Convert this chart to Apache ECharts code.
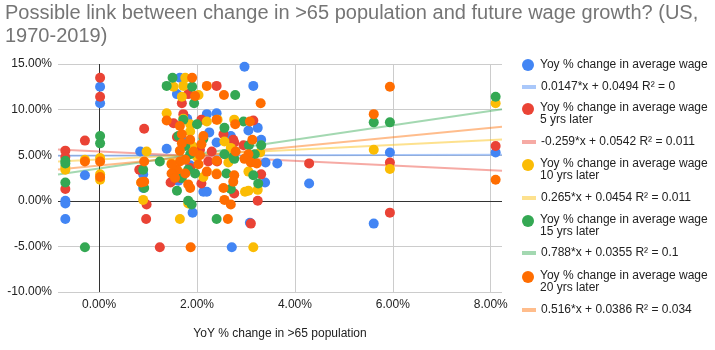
<!DOCTYPE html>
<html>
<head>
<meta charset="utf-8">
<script src="https://cdn.jsdelivr.net/npm/echarts@6/dist/echarts.min.js"></script>
<style>
  html, body { margin: 0; padding: 0; background: #fff; }
  #chart { width: 715px; height: 350px; }
</style>
</head>
<body>
<div id="chart"></div>
<script>
// values in percent
const wageNow = [
  [-0.69, 0.0], [-0.69, -0.3], [-0.69, -2.0], [-0.29, 2.8], [0.02, 12.5], [0.02, 10.7],
  [0.84, 5.4], [0.9, 2.9], [0.9, 1.4], [1.38, 5.7], [1.65, 13.5], [1.59, 11.7], [2.2, 9.5],
  [2.13, 1.0], [2.2, 1.0], [1.91, -1.3], [2.97, 14.7], [3.15, 12.6], [2.4, 9.6], [3.05, 7.7],
  [3.24, 8.0], [2.69, 7.1], [3.31, 6.7], [2.4, 6.4], [3.4, 4.2], [3.64, 4.1], [3.39, 2.0],
  [2.71, -5.1], [4.29, 1.9], [5.61, -2.5], [5.94, 5.3], [8.1, 5.3], [1.72, 6.5], [1.86, 3.9],
  [2.03, 5.8], [1.62, 2.2], [2.25, 7.5], [1.8, 9.0], [3.08, -2.4]
];
const wage5 = [
  [-0.69, 5.5], [-0.69, 4.8], [-0.69, 1.3], [-0.29, 6.6], [0.02, 13.5], [0.02, 11.4],
  [0.92, 7.9], [0.82, 3.4], [0.97, -0.4], [0.96, -2.0], [1.24, -5.1], [1.46, 2.0], [1.82, 11.7],
  [2.4, 12.6], [1.69, 10.7], [1.72, 9.5], [1.52, 8.5], [2.09, 8.9], [2.3, 5.4], [2.09, 1.9],
  [2.76, 0.8], [3.24, 0.0], [3.1, -2.5], [3.15, 8.8], [2.54, 7.3], [2.76, 6.4], [2.95, 6.1],
  [3.31, 2.9], [4.29, 4.1], [5.94, 4.2], [5.94, -1.3], [8.1, 6.0], [2.41, 4.3], [2.23, 4.3],
  [1.65, 2.5], [2.06, 5.6], [2.74, 6.7], [1.86, 3.6], [1.59, 7.0]
];
const wage10 = [
  [-0.69, 3.4], [-0.69, 3.7], [-0.29, 4.5], [0.02, 4.7], [0.02, 2.9], [0.02, 2.3], [0.97, 5.4],
  [0.86, 2.0], [0.9, 0.1], [1.65, -2.0], [1.76, 13.5], [1.52, 12.5], [1.72, 12.6], [1.69, 11.4],
  [2.03, 11.6], [1.38, 9.6], [1.86, 8.4], [2.2, 8.7], [1.86, 7.6], [2.4, 3.0], [1.48, 4.1],
  [2.42, 8.9], [2.76, 8.9], [2.56, 6.5], [2.69, 5.8], [3.29, 5.3], [2.64, 4.2], [3.05, 3.2],
  [2.98, 1.0], [3.05, 1.1], [3.24, 1.2], [3.15, -5.1], [5.61, 5.6], [5.94, 3.5], [8.1, 10.7],
  [1.82, -0.3], [1.72, 9.0], [1.9, 6.0], [2.13, 2.6], [1.62, 3.2], [2.0, 4.8]
];
const wage15 = [
  [-0.69, 4.4], [-0.69, 4.1], [-0.69, 2.0], [-0.29, -5.1], [0.02, 7.1], [0.02, 6.3], [0.92, 1.4],
  [0.9, 3.4], [1.24, 4.3], [1.5, 13.5], [1.38, 12.6], [1.9, 12.5], [1.94, 10.7], [2.78, 11.6],
  [1.72, 8.9], [2.0, 8.4], [1.62, 7.1], [1.86, 5.1], [1.82, 3.4], [1.96, 3.0], [1.69, 2.5],
  [1.59, 1.1], [1.82, 0.0], [1.89, -0.4], [2.4, -2.0], [2.69, 1.3], [3.25, 1.9], [2.95, 8.7],
  [2.56, 8.0], [3.06, 6.1], [3.31, 6.1], [2.56, 5.1], [3.18, 5.1], [2.76, 4.6], [2.6, 3.0],
  [3.15, 2.8], [5.61, 8.6], [5.94, 8.6], [8.1, 11.4], [2.74, 4.8], [2.13, 6.8], [1.76, 6.0]
];
const wage20 = [
  [-0.29, 4.3], [0.02, 4.3], [0.02, 2.6], [0.92, 4.3], [0.92, 2.1], [0.86, 2.0], [1.87, -5.1],
  [1.9, 13.5], [2.2, 12.6], [1.96, 11.5], [2.55, 11.6], [3.3, 10.7], [1.38, 8.8], [1.65, 8.2],
  [2.4, 8.9], [1.69, 7.3], [2.13, 7.1], [1.86, 6.7], [1.69, 6.3], [2.09, 6.2], [1.93, 5.4],
  [1.65, 4.3], [2.03, 4.0], [1.59, 3.4], [1.48, 3.0], [1.76, 3.0], [2.2, 3.2], [1.86, 1.4],
  [1.82, 1.8], [2.54, 1.4], [2.56, 0.1], [2.69, -0.4], [2.63, -2.0], [2.78, 8.4], [3.08, 8.7],
  [3.13, 6.7], [2.79, 5.4], [3.05, 5.1], [2.4, 4.4], [2.97, 4.6], [3.1, 4.2], [3.22, 4.1],
  [2.4, 2.9], [2.76, 2.8], [5.61, 9.5], [5.94, 12.5], [8.1, 2.3], [1.48, 4.0], [2.74, 2.1],
  [1.76, 4.5], [2.06, 5.0], [1.65, 5.5], [1.55, 2.5]
];

const scatterNames = [
  "Yoy % change in average wage",
  "Yoy % change in average wage\n5 yrs later",
  "Yoy % change in average wage\n10 yrs later",
  "Yoy % change in average wage\n15 yrs later",
  "Yoy % change in average wage\n20 yrs later",
];
const trendNames = [
  "0.0147*x + 0.0494 R² = 0",
  "-0.259*x + 0.0542 R² = 0.011",
  "0.265*x + 0.0454 R² = 0.011",
  "0.788*x + 0.0355 R² = 0.1",
  "0.516*x + 0.0386 R² = 0.034",
];
const trendSlopes = [0.0147, -0.259, 0.265, 0.788, 0.516];
const trendIntercepts = [0.0494, 0.0542, 0.0454, 0.0355, 0.0386];
const xTicks = [0, 2, 4, 6, 8];

const scatterData = [wageNow, wage5, wage10, wage15, wage20];
const colors = ["#4285F4", "#EA4335", "#FBBC04", "#34A853", "#FF6D01"];
const trendColors = [
  "rgba(66,133,244,0.45)", "rgba(234,67,53,0.45)", "rgba(251,188,4,0.45)",
  "rgba(52,168,83,0.45)", "rgba(255,109,1,0.45)",
];

const X_MIN = -0.84, X_MAX = 8.23;
const FONT = "Liberation Sans, Arial, sans-serif";
const pct = (v) => v.toFixed(2) + "%";
// icon centre (px) of each legend row, marker first then its trendline
const legendRowY = [65, 87, 109, 142, 165, 198, 221, 253, 277, 310];

const chart = echarts.init(document.getElementById("chart"));

const series = [];
const legends = [];
const txt = { fontSize: 12, color: "#222", fontFamily: FONT };

// one legend per row so a two-line label keeps its marker on the first line
function addLegend(item, row, wrapped) {
  const leg = {
    orient: "vertical",
    left: 522,
    top: legendRowY[row] - (wrapped ? 12 : 6),
    padding: 0,
    itemWidth: 14,
    itemHeight: 12,
    selectedMode: false,
    textStyle: Object.assign({ lineHeight: 12 }, txt),
    data: [item],
  };
  if (wrapped) {
    leg.formatter = (name) => {
      const parts = name.split("\n");
      return "{l1|" + parts[0] + "}\n{l2|" + parts[1] + "}";
    };
    leg.textStyle.rich = {
      l1: Object.assign({ lineHeight: 22 }, txt),
      l2: Object.assign({ lineHeight: 2 }, txt),
    };
  }
  legends.push(leg);
}

scatterData.forEach((data, i) => {
  series.push({
    name: scatterNames[i],
    type: "scatter",
    data: data,
    symbolSize: 10,
    itemStyle: { color: colors[i], opacity: 1 },
    z: 3,
    markLine: i === 0 ? {
      silent: true,
      symbol: ["none", "none"],
      label: { show: false },
      lineStyle: { color: "#333", width: 1, type: "solid" },
      data: [{ xAxis: 0 }, { yAxis: 0 }],
      animation: false,
      z: 1,
    } : undefined,
  });
  // trendline from the fitted equation shown in the legend
  series.push({
    name: trendNames[i],
    type: "line",
    data: [
      [X_MIN, trendSlopes[i] * X_MIN + trendIntercepts[i] * 100],
      [X_MAX, trendSlopes[i] * X_MAX + trendIntercepts[i] * 100],
    ],
    showSymbol: false,
    symbol: "none",
    lineStyle: { color: trendColors[i], width: 2 },
    itemStyle: { color: trendColors[i] },
    z: 2,
    silent: true,
  });
  addLegend({ name: scatterNames[i], icon: "circle", itemStyle: { color: colors[i] } }, i * 2, i > 0);
  addLegend({ name: trendNames[i], icon: "path://M0,0H14V4H0Z", itemStyle: { color: trendColors[i] } }, i * 2 + 1, false);
});

const option = {
  animation: false,
  title: {
    text: "Possible link between change in >65 population and future wage growth? (US,\n1970-2019)",
    left: 5,
    top: 2,
    padding: 0,
    textStyle: {
      fontSize: 20,
      fontWeight: "normal",
      color: "#757575",
      lineHeight: 23,
      fontFamily: FONT,
    },
  },
  legend: legends,
  grid: { left: 58, right: 213, top: 64, bottom: 58 },
  xAxis: {
    type: "value",
    min: X_MIN,
    max: X_MAX,
    name: "YoY % change in >65 population",
    nameLocation: "middle",
    nameGap: 36,
    nameTextStyle: { fontSize: 12, color: "#222", fontFamily: FONT },
    axisLine: { show: false },
    axisTick: { show: false, customValues: xTicks },
    axisLabel: { customValues: xTicks, formatter: pct, fontSize: 12, color: "#222", margin: 7, fontFamily: FONT },
    splitLine: { show: true, lineStyle: { color: "#ccc", width: 1 } },
  },
  yAxis: {
    type: "value",
    min: -10,
    max: 15,
    interval: 5,
    axisLine: { show: false },
    axisTick: { show: false },
    axisLabel: { formatter: pct, fontSize: 12, color: "#222", margin: 6, fontFamily: FONT },
    splitLine: { show: true, lineStyle: { color: "#ccc", width: 1 } },
  },
  series: series,
};

chart.setOption(option);
</script>
</body>
</html>
